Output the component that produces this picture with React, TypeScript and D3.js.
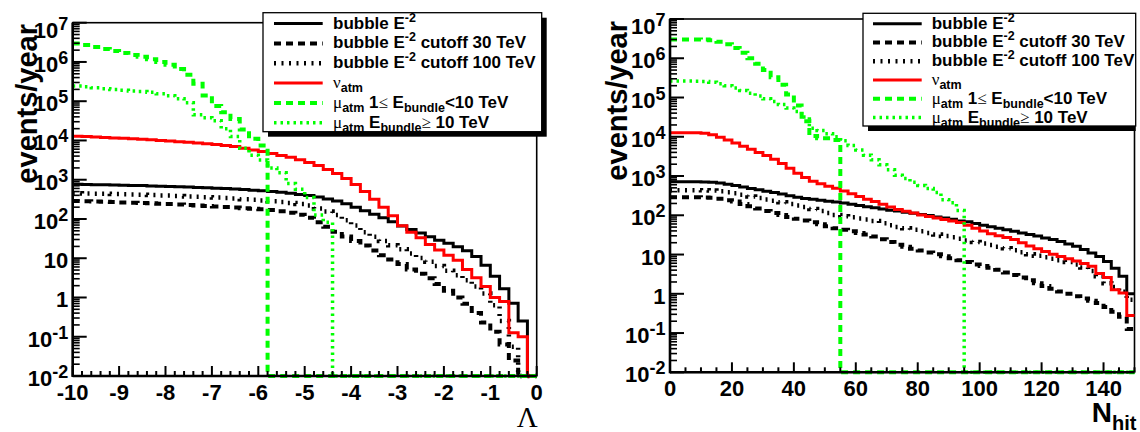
import React from 'react';
import * as d3 from 'd3';

// ---------------- data ----------------
const lambdaBinStart = -10;
const lambdaBinWidth = 0.2;
const nhitBinStart = 0;
const nhitBinWidth = 2.5;

// Left panel (Lambda), 50 bins of 0.2 from -10 to 0, events/year
const lambdaBubble = [767,759,750,741,733,724,716,708,692,684,676,661,653,638,624,610,596,582,562,543,525,501,479,452,422,398,363,324,288,245,200,162,132,107,85,66,54,44,35.5,28.8,24,19.5,15.5,11,6.6,3.5,1.66,0.71,0.25,0];
const lambdaCut30 = [285,282,279,275,269,263,260,257,251,245,240,234,226,221,214,209,202,195,188,182,176,170,158,145,129,107,83,63,47,36,27.5,21,15.8,12,9.3,7.1,5.2,4.0,3.1,2.2,1.48,1.0,0.69,0.40,0.23,0.135,0.063,0.025,0,0];
const lambdaCut100 = [452,447,442,437,432,427,422,412,407,398,394,385,376,367,359,351,343,331,320,309,295,282,269,254,240,219,186,155,126,93,68,46,35.5,27.5,21.4,17,13.2,10.2,8.1,6.3,4.8,3.7,2.75,1.9,1.26,0.63,0.25,0.056,0,0];
const lambdaNuAtm = [12900,12600,12200,11900,11600,11400,11000,10700,10400,10000,9660,9330,9020,8610,8220,7850,7410,7000,6310,5750,5250,4680,4170,3720,3240,2750,2290,1820,1450,1070,759,501,316,200,120,67.6,45.7,33.1,22.4,16.2,12.0,8.9,5.2,3.2,1.9,1.0,0.79,0.126,0.1,0];
const lambdaMuLow = [2.95e6,2.69e6,2.40e6,2.14e6,1.91e6,1.70e6,1.51e6,1.35e6,1.17e6,1.0e6,8.5e5,6.6e5,4.7e5,2.8e5,1.4e5,7.6e4,5.2e4,3.5e4,1.9e4,1.1e4,7400,0,0,0,0,0,0,0,0,0,0,0,0,0,0,0,0,0,0,0,0,0,0,0,0,0,0,0,0,0];
const lambdaMuHigh = [2.45e5,2.34e5,2.19e5,2.09e5,2.0e5,1.9e5,1.82e5,1.78e5,1.7e5,1.55e5,1.38e5,1.15e5,9.1e4,4.5e4,3.8e4,3.2e4,2.0e4,1.26e4,6300,4200,3200,2000,1500,800,575,355,126,83,0,0,0,0,0,0,0,0,0,0,0,0,0,0,0,0,0,0,0,0,0,0];

// Right panel (N_hit), 60 bins of 2.5 from 0 to 150, events/year
const nhitBubble = [718,718,718,716,708,692,661,617,575,525,479,447,407,380,347,316,288,269,257,240,229,219,204,191,178,166,155,145,135,129,120,112,105,98,91,85,79,72,68,62,56,51,47,43,39,35.5,32.4,29.5,26.3,24,21.4,18.6,16.2,13.5,11,8.9,6.6,4.5,2.8,1.0];
const nhitCut30 = [288,288,288,288,285,279,263,243,224,195,170,148,129,115,102,91,81,74,66,59,52.5,47,42.7,38.9,35.5,32.4,28.8,24.5,20.9,17.8,15.8,14.1,12.6,11.2,10.2,9.1,8.1,7.2,6.5,5.6,5.1,4.6,4.1,3.5,3.0,2.6,2.2,1.86,1.58,1.35,1.15,1.0,0.87,0.76,0.66,0.58,0.46,0.35,0.26,0.126];
const nhitCut100 = [437,437,437,437,432,427,407,385,363,331,302,275,251,234,214,195,178,162,145,129,115,102,95,89,83,78,71,63,56,50,47,43,39,35.5,32.4,29.5,27.5,25.1,22.9,20.9,19.1,17.4,15.8,14.5,12.9,11.5,10.2,9.3,8.5,7.8,7.1,6.5,5.6,4.7,3.8,2.8,1.86,1.48,1.12,0.71];
const nhitNuAtm = [12700,12700,12700,12600,12300,11200,9770,8320,6920,5750,4790,3980,3310,2690,2090,1580,1170,912,741,631,550,490,417,355,302,257,224,191,162,141,126,115,102,93,85,78,71,65,56,47,40,34,30,27,24,20,16.6,14.1,12.0,10.2,8.9,7.8,6.8,5.9,5.0,3.3,2.6,1.26,1.05,0.28];
const nhitMuLow = [3.02e6,3.02e6,3.02e6,3.02e6,2.99e6,2.88e6,2.63e6,2.29e6,1.82e6,1.38e6,1.0e6,7.2e5,5.0e5,3.3e5,2.1e5,1.2e5,6.3e4,2.5e4,1.05e4,9100,9100,8300,0,0,0,0,0,0,0,0,0,0,0,0,0,0,0,0,0,0,0,0,0,0,0,0,0,0,0,0,0,0,0,0,0,0,0,0,0,0];
const nhitMuHigh = [2.63e5,2.63e5,2.63e5,2.6e5,2.57e5,2.45e5,2.24e5,2.0e5,1.74e5,1.51e5,1.29e5,1.1e5,9.3e4,7.9e4,6.6e4,5.4e4,4.4e4,3.2e4,1.66e4,1.45e4,1.2e4,1.0e4,7900,6000,4600,3400,2600,1950,1450,1050,870,690,575,480,380,250,210,132,0,0,0,0,0,0,0,0,0,0,0,0,0,0,0,0,0,0,0,0,0,0];

const lambdaTicks = [-10, -9, -8, -7, -6, -5, -4, -3, -2, -1, 0];
const nhitTicks = [0, 20, 40, 60, 80, 100, 120, 140];
const decadeExponents = [-2, -1, 0, 1, 2, 3, 4, 5, 6, 7];

type Seg = { t: string; k?: 'sub' | 'sup'; sym?: boolean };
const legendLabels: Seg[][] = [
  [{ t: 'bubble E' }, { t: '-2', k: 'sup' }],
  [{ t: 'bubble E' }, { t: '-2', k: 'sup' }, { t: ' cutoff 30 TeV' }],
  [{ t: 'bubble E' }, { t: '-2', k: 'sup' }, { t: ' cutoff 100 TeV' }],
  [{ t: 'ν', sym: true }, { t: 'atm', k: 'sub' }],
  [{ t: 'μ', sym: true }, { t: 'atm', k: 'sub' }, { t: ' 1' }, { t: '≤', sym: true }, { t: ' E' }, { t: 'bundle', k: 'sub' }, { t: '<10 TeV' }],
  [{ t: 'μ', sym: true }, { t: 'atm', k: 'sub' }, { t: ' E' }, { t: 'bundle', k: 'sub' }, { t: '≥', sym: true }, { t: ' 10 TeV' }],
];

// ---------------- styles ----------------
const SANS = '"Liberation Sans", Arial, Helvetica, sans-serif';
const SERIF = '"Liberation Serif", "Times New Roman", serif';
const LINE_STYLES = [
  { color: '#000000', width: 3, dash: undefined as string | undefined },
  { color: '#000000', width: 4, dash: '7 5' },
  { color: '#000000', width: 4.5, dash: '2 5.5' },
  { color: '#ff0000', width: 3, dash: undefined },
  { color: '#00ff00', width: 4, dash: '7 5' },
  { color: '#00ff00', width: 3.5, dash: '2.5 4' },
];

function richText(segs: Seg[], base: number, small: number, subDy: number, supDy: number) {
  let cur = 0;
  return segs.map((s, i) => {
    const target = s.k === 'sub' ? subDy : s.k === 'sup' ? supDy : 0;
    const dy = target - cur;
    cur = target;
    return (
      <tspan
        key={i}
        dy={dy}
        fontSize={s.k ? small : base}
        fontFamily={s.sym ? SERIF : undefined}
        fontWeight={s.sym ? 'normal' : undefined}
      >
        {s.t}
      </tspan>
    );
  });
}

interface PanelCfg {
  id: string;
  x0: number; x1: number; yTop: number; yBot: number;
  domain: [number, number];
  ticks: number[];
  minorStep: number;
  binStart: number; binWidth: number;
  series: number[][];
  legend: { x: number; y: number; w: number; h: number; lx0: number; lx1: number; tx: number; shadowW: number };
  yTitle: { x: number; y: number };
  xTitle: 'lambda' | 'nhit';
}

function Panel({ cfg }: { cfg: PanelCfg }) {
  const x = d3.scaleLinear().domain(cfg.domain).range([cfg.x0, cfg.x1]);
  const y = d3.scaleLog().domain([0.01, 1e7]).range([cfg.yBot, cfg.yTop]);

  const histPath = (vals: number[]) => {
    let d = '';
    vals.forEach((v, i) => {
      const xa = x(cfg.binStart + i * cfg.binWidth);
      const xb = x(cfg.binStart + (i + 1) * cfg.binWidth);
      const yy = v > 0 ? Math.min(y(v), cfg.yBot) : cfg.yBot;
      d += i === 0 ? `M${xa},${yy}` : `V${yy}`;
      d += `H${xb}`;
    });
    return d;
  };

  const minorX = d3.range(cfg.domain[0], cfg.domain[1] + 1e-9, cfg.minorStep)
    .filter((v) => !cfg.ticks.some((t) => Math.abs(t - v) < 1e-6));
  const minorY: number[] = [];
  decadeExponents.slice(0, -1).forEach((e) => {
    for (let k = 2; k <= 9; k++) minorY.push(k * Math.pow(10, e));
  });

  const L = cfg.legend;
  const rowH = L.h / legendLabels.length;
  const clipId = `clip-${cfg.id}`;

  return (
    <g>
      <defs>
        <clipPath id={clipId}>
          <rect x={cfg.x0} y={cfg.yTop - 2} width={cfg.x1 - cfg.x0 + 1} height={cfg.yBot - cfg.yTop + 5} />
        </clipPath>
      </defs>
      {/* frame */}
      <rect x={cfg.x0} y={cfg.yTop} width={cfg.x1 - cfg.x0} height={cfg.yBot - cfg.yTop} fill="white" stroke="#000" strokeWidth={1.6} />
      {/* curves */}
      <g clipPath={`url(#${clipId})`}>
        {cfg.series.map((vals, i) => (
          <path
            key={i}
            d={histPath(vals)}
            fill="none"
            stroke={LINE_STYLES[i].color}
            strokeWidth={LINE_STYLES[i].width}
            strokeDasharray={LINE_STYLES[i].dash}
          />
        ))}
      </g>
      {/* axes */}
      <line x1={cfg.x0} x2={cfg.x0} y1={cfg.yTop} y2={cfg.yBot + 1} stroke="#000" strokeWidth={2.6} />
      <line x1={cfg.x0} x2={cfg.x1} y1={cfg.yBot} y2={cfg.yBot} stroke="#000" strokeWidth={2.6} />
      {cfg.ticks.map((t) => (
        <line key={`mx${t}`} x1={x(t)} x2={x(t)} y1={cfg.yBot} y2={cfg.yBot - 10} stroke="#000" strokeWidth={2} />
      ))}
      {minorX.map((t) => (
        <line key={`nx${t}`} x1={x(t)} x2={x(t)} y1={cfg.yBot} y2={cfg.yBot - 5} stroke="#000" strokeWidth={2} />
      ))}
      {decadeExponents.map((e) => (
        <line key={`my${e}`} x1={cfg.x0} x2={cfg.x0 + 14} y1={y(Math.pow(10, e))} y2={y(Math.pow(10, e))} stroke="#000" strokeWidth={2} />
      ))}
      {minorY.map((v) => (
        <line key={`ny${v}`} x1={cfg.x0} x2={cfg.x0 + 7} y1={y(v)} y2={y(v)} stroke="#000" strokeWidth={1.6} />
      ))}
      {/* tick labels */}
      <g fontFamily={SANS} fontWeight="bold" fontSize={22} fill="#000">
        {cfg.ticks.map((t) => (
          <text key={`lx${t}`} x={x(t)} y={cfg.yBot + 23.5} textAnchor="middle">{String(t)}</text>
        ))}
        {decadeExponents.map((e) => {
          const ty = y(Math.pow(10, e)) + (e === 7 ? 15 : 10);
          const segs: Seg[] = e === 0 ? [{ t: '1' }] : e === 1 ? [{ t: '10' }] : [{ t: '10' }, { t: String(e), k: 'sup' }];
          return (
            <text key={`ly${e}`} x={cfg.x0 - 4.5} y={ty} textAnchor="end" style={{ whiteSpace: 'pre' }}>
              {richText(segs, 22, 18, 0, -8)}
            </text>
          );
        })}
      </g>
      {/* axis titles */}
      <text
        x={cfg.yTitle.x}
        y={cfg.yTitle.y}
        transform={`rotate(-90, ${cfg.yTitle.x}, ${cfg.yTitle.y})`}
        textAnchor="end"
        fontFamily={SANS}
        fontWeight="bold"
        fontSize={29}
      >
        events/year
      </text>
      {cfg.xTitle === 'lambda' ? (
        <text x={cfg.x1 + 1} y={427} textAnchor="end" fontFamily={SERIF} fontSize={29}>Λ</text>
      ) : (
        <text x={cfg.x1 + 2} y={422} textAnchor="end" fontFamily={SANS} fontWeight="bold" style={{ whiteSpace: 'pre' }}>
          <tspan fontSize={28}>N</tspan>
          <tspan fontSize={20} dy={7.5}>hit</tspan>
        </text>
      )}
      {/* legend */}
      <rect x={L.x + 5} y={L.y + 5} width={L.shadowW} height={L.h} fill="#000" />
      <rect x={L.x} y={L.y} width={L.w} height={L.h} fill="#fff" stroke="#000" strokeWidth={1.3} />
      {legendLabels.map((segs, i) => {
        const cy = L.y + rowH * (i + 0.5);
        const st = LINE_STYLES[i];
        return (
          <g key={`leg${i}`}>
            <line x1={L.lx0} x2={L.lx1} y1={cy + 1} y2={cy + 1} stroke={st.color} strokeWidth={st.width} strokeDasharray={st.dash} />
            <text x={L.tx} y={cy + 6} fontFamily={SANS} fontWeight="bold" fontSize={17} style={{ whiteSpace: 'pre' }}>
              {richText(segs, 17, 12.5, 4, -7)}
            </text>
          </g>
        );
      })}
    </g>
  );
}

const leftCfg: PanelCfg = {
  id: 'lambda',
  x0: 72.7, x1: 536.7, yTop: 22.7, yBot: 376,
  domain: [-10, 0],
  ticks: lambdaTicks,
  minorStep: 0.2,
  binStart: lambdaBinStart, binWidth: lambdaBinWidth,
  series: [lambdaBubble, lambdaCut30, lambdaCut100, lambdaNuAtm, lambdaMuLow, lambdaMuHigh],
  legend: { x: 263, y: 12.7, w: 278.7, h: 119, lx0: 274, lx1: 322.7, tx: 333, shadowW: 278.7 },
  yTitle: { x: 37, y: 24 },
  xTitle: 'lambda',
};

const rightCfg: PanelCfg = {
  id: 'nhit',
  x0: 670, x1: 1134.5, yTop: 19, yBot: 372.3,
  domain: [0, 150],
  ticks: nhitTicks,
  minorStep: 5,
  binStart: nhitBinStart, binWidth: nhitBinWidth,
  series: [nhitBubble, nhitCut30, nhitCut100, nhitNuAtm, nhitMuLow, nhitMuHigh],
  legend: { x: 863, y: 13.3, w: 272.7, h: 112.7, lx0: 873, lx1: 921.7, tx: 931.7, shadowW: 267.7 },
  yTitle: { x: 627, y: 21 },
  xTitle: 'nhit',
};

export default function App() {
  return (
    <svg
      width={1140}
      height={432}
      viewBox="0 0 1140 432"
      style={{ position: 'absolute', left: 0, top: 0, background: '#fff' }}
    >
      <rect x={0} y={0} width={1140} height={432} fill="#fff" />
      <Panel cfg={leftCfg} />
      <Panel cfg={rightCfg} />
    </svg>
  );
}
